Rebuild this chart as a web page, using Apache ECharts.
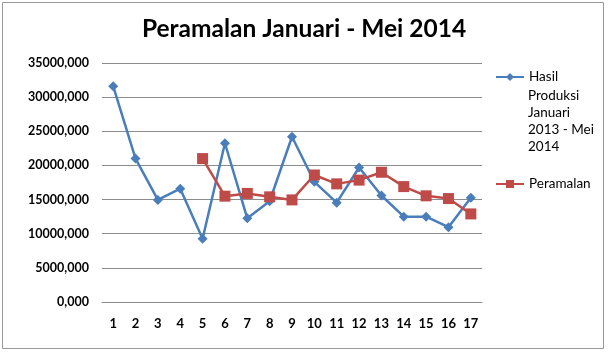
<!DOCTYPE html>
<html>
<head>
<meta charset="utf-8">
<script src="https://cdn.jsdelivr.net/npm/echarts@6/dist/echarts.min.js"></script>
<style>
  html, body { margin: 0; padding: 0; background: #fff; }
  #main { width: 608px; height: 360px; }
</style>
</head>
<body>
<div id="main"></div>
<script>
// data
const periode = ['1','2','3','4','5','6','7','8','9','10','11','12','13','14','15','16','17'];
const hasilProduksi = [31600, 21000, 14950, 16600, 9250, 23250, 12250, 14750, 24200, 17600, 14550, 19700, 15600, 12500, 12500, 10950, 15250];
const peramalan = [null, null, null, null, 21000, 15500, 15900, 15400, 14950, 18600, 17300, 17850, 19000, 16900, 15550, 15150, 12900];

const font = 'Lato, "Liberation Sans", sans-serif';
let myChart = echarts.init(document.getElementById('main'));
myChart.setOption({
  backgroundColor: '#fff',
  animation: false,
  textStyle: { fontFamily: font },
  title: {
    text: 'Peramalan Januari - Mei 2014',
    left: 'center',
    top: 12,
    textStyle: { fontSize: 24.5, fontWeight: 'bold', color: '#000', fontFamily: font }
  },
  graphic: [
    {
      type: 'rect',
      shape: { x: 2.5, y: 2.5, width: 601, height: 346 },
      style: { fill: 'none', stroke: '#999', lineWidth: 1 }
    },
    {
      type: 'text',
      left: 528,
      top: 86.5,
      style: {
        text: 'Produksi\nJanuari\n2013 - Mei\n2014',
        fontSize: 13.5,
        lineHeight: 17.3,
        fill: '#000',
        fontFamily: font
      }
    }
  ],
  legend: [
    {
      orient: 'vertical',
      left: 495,
      top: 70,
      padding: 0,
      itemWidth: 28,
      itemHeight: 10,
      data: ['Hasil Produksi Januari 2013 - Mei 2014'],
      formatter: () => 'Hasil',
      textStyle: { fontSize: 13.5, color: '#000', fontFamily: font }
    },
    {
      orient: 'vertical',
      left: 495,
      top: 177,
      padding: 0,
      itemWidth: 28,
      itemHeight: 10,
      data: ['Peramalan'],
      textStyle: { fontSize: 13.5, color: '#000', fontFamily: font }
    }
  ],
  grid: { left: 102, right: 126, top: 63, bottom: 58 },
  xAxis: {
    type: 'category',
    data: periode,
    boundaryGap: true,
    axisLine: { lineStyle: { color: '#888' } },
    axisTick: { show: false },
    axisLabel: { color: '#000', fontSize: 13, fontWeight: 'bold', margin: 15 }
  },
  yAxis: {
    type: 'value',
    min: 0,
    max: 35000,
    interval: 5000,
    axisLine: { show: false },
    axisTick: { show: false },
    splitLine: { lineStyle: { color: '#8c8c8c' } },
    axisLabel: {
      color: '#000',
      fontSize: 12.5,
      fontWeight: 'bold',
      margin: 13,
      formatter: v => v + ',000'
    }
  },
  series: [
    {
      name: 'Hasil Produksi Januari 2013 - Mei 2014',
      type: 'line',
      data: hasilProduksi,
      symbol: 'diamond',
      symbolSize: 10,
      itemStyle: { color: '#4A7EBB' },
      lineStyle: { color: '#4A7EBB', width: 2.5 }
    },
    {
      name: 'Peramalan',
      type: 'line',
      data: peramalan,
      symbol: 'rect',
      symbolSize: 11,
      itemStyle: { color: '#BE4B48' },
      lineStyle: { color: '#BE4B48', width: 2.5 }
    }
  ]
});
</script>
</body>
</html>
